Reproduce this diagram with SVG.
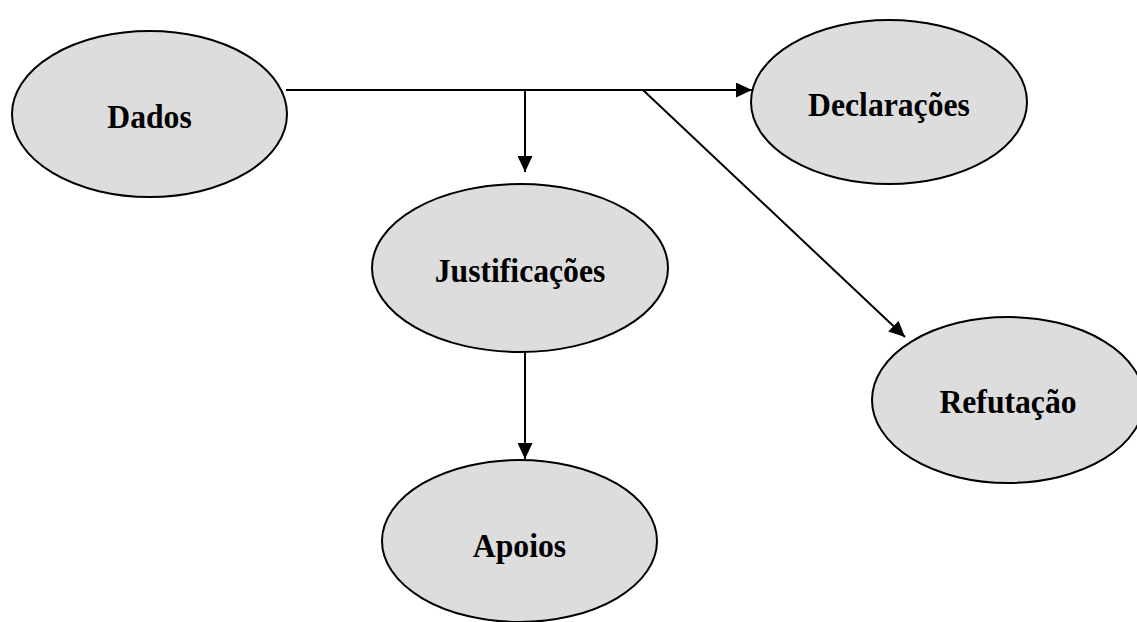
<svg xmlns="http://www.w3.org/2000/svg" width="1137" height="622" viewBox="0 0 1137 622">
  <style>
    .node ellipse { fill: #dddddd; stroke: #000000; stroke-width: 2; }
    .node text { font-family: "Liberation Serif", "Times New Roman", serif; font-weight: bold; font-size: 33px; fill: #000000; text-anchor: middle; }
    .edges line { stroke: #000000; stroke-width: 2; fill: none; }
  </style>
  <defs>
    <marker id="arrow" markerUnits="userSpaceOnUse" markerWidth="16" markerHeight="15" viewBox="0 0 16 15" refX="16" refY="7.5" orient="auto">
      <path d="M0,0 L16,7.5 L0,15 Z" fill="#000000"/>
    </marker>
  </defs>
  <rect width="1137" height="622" fill="#ffffff"/>

  <g id="dados" class="node">
    <ellipse cx="149.5" cy="114" rx="137.5" ry="83"/>
    <text transform="translate(149.5,128) scale(0.96,1)">Dados</text>
  </g>

  <g id="declaracoes" class="node">
    <ellipse cx="889" cy="102" rx="138" ry="82"/>
    <text transform="translate(889,116) scale(0.96,1)">Declarações</text>
  </g>

  <g id="justificacoes" class="node">
    <ellipse cx="520" cy="268" rx="148" ry="84"/>
    <text transform="translate(520,282) scale(0.96,1)">Justificações</text>
  </g>

  <g id="refutacao" class="node">
    <ellipse cx="1008" cy="400" rx="136" ry="83"/>
    <text transform="translate(1008,413) scale(0.96,1)">Refutação</text>
  </g>

  <g id="apoios" class="node">
    <ellipse cx="519.5" cy="541" rx="137.5" ry="81"/>
    <text transform="translate(519.5,557) scale(0.96,1)">Apoios</text>
  </g>

  <g id="connectors" class="edges">
    <line x1="286" y1="90" x2="752" y2="90" marker-end="url(#arrow)"/>
    <line x1="525" y1="90" x2="525" y2="172" marker-end="url(#arrow)"/>
    <line x1="643" y1="90" x2="905" y2="337" marker-end="url(#arrow)"/>
    <line x1="525" y1="352" x2="525" y2="459" marker-end="url(#arrow)"/>
  </g>
</svg>
